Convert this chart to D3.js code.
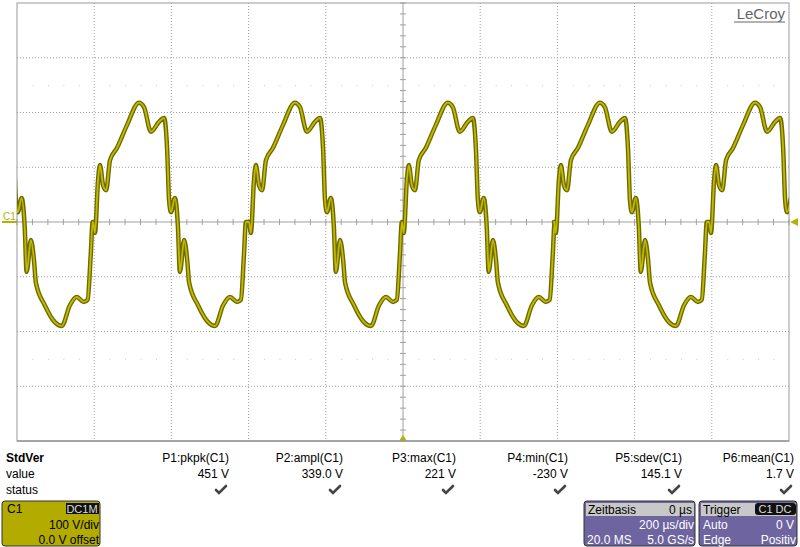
<!DOCTYPE html><html><head><meta charset="utf-8">
<script src="https://cdn.jsdelivr.net/npm/d3@7"></script>
<style>body{margin:0;background:#fff}svg{display:block;font-family:"Liberation Sans",Arial,sans-serif}</style></head><body>
<script>
// one cycle of the waveform: offset in µs from rising zero crossing, volts
const cycleOffsets=[0,5,13,18,26,34,44,62,88,119,132,150,171,184,192,197,202,212,220,225,236,244,249,272,298,316,337,355,373,383,391,396];
const cycleVolts=[0,-20,77,104,67,58,113,135,177,218,210,165,183,190,132,40,18,44,-10,-91,-33,-70,-111,-152,-183,-190,-152,-137,-146,-142,-60,0];
const cycleStarts=[-1200,-803,-399,-3,391,793]; // µs
const measLabels=["P1:pkpk(C1)","P2:ampl(C1)","P3:max(C1)","P4:min(C1)","P5:sdev(C1)","P6:mean(C1)"];
const measValues=["451 V","339.0 V","221 V","-230 V","145.1 V","1.7 V"];

const W=800,H=547;
const svg=d3.select("body").append("svg").attr("width",W).attr("height",H);
const L=17,R=789,T=3,B=441;
const x=d3.scaleLinear().domain([-1000,1000]).range([L,R]);
const y=d3.scaleLinear().domain([-400,400]).range([B,T]);
const g=svg.append("g");
const gc="#a0a0a0";
d3.range(-1000,1001,200).forEach(t=>{ if(t!==0&&t!==-1000&&t!==1000) g.append("line").attr("x1",x(t)).attr("x2",x(t)).attr("y1",T).attr("y2",B).attr("stroke",gc).attr("stroke-dasharray","1,2");});
d3.range(-300,301,100).forEach(v=>{ if(v!==0) g.append("line").attr("x1",L).attr("x2",R).attr("y1",y(v)).attr("y2",y(v)).attr("stroke",gc).attr("stroke-dasharray","1,2");});
[250,-250].forEach(v=>{d3.range(-1000,1000,40).forEach(t=>{ if(t%200!==-1000%200) g.append("rect").attr("x",x(t)).attr("y",y(v)).attr("width",1).attr("height",1).attr("fill","#c8c8c8");});});
g.append("line").attr("x1",L).attr("x2",R).attr("y1",y(0)).attr("y2",y(0)).attr("stroke","#a0a0a0");
g.append("line").attr("x1",x(0)).attr("x2",x(0)).attr("y1",T).attr("y2",B).attr("stroke","#a0a0a0");
d3.range(-1000,1001,40).forEach(t=>g.append("line").attr("x1",x(t)).attr("x2",x(t)).attr("y1",y(0)-3).attr("y2",y(0)+3).attr("stroke","#a0a0a0"));
d3.range(-400,401,20).forEach(v=>g.append("line").attr("x1",x(0)-3).attr("x2",x(0)+3).attr("y1",y(v)).attr("y2",y(v)).attr("stroke","#a0a0a0"));
g.append("rect").attr("x",L).attr("y",T).attr("width",R-L).attr("height",B-T).attr("fill","none").attr("stroke","#999");
const pts=[];
cycleStarts.forEach(s=>cycleOffsets.forEach((o,i)=>pts.push([s+o,cycleVolts[i]])));
const vis=pts.filter(p=>p[0]>=-1010&&p[0]<=1010);
svg.append("clipPath").attr("id","c").append("rect").attr("x",L).attr("y",T).attr("width",R-L).attr("height",B-T);
const line=d3.line().x(d=>x(d[0])).y(d=>y(d[1])).curve(d3.curveMonotoneX);
const wg=svg.append("g").attr("clip-path","url(#c)");
wg.append("path").attr("d",line(vis)).attr("fill","none").attr("stroke","#6e6a00").attr("stroke-width",4.5).attr("stroke-linejoin","round");
wg.append("path").attr("d",line(vis)).attr("fill","none").attr("stroke","#c2ba00").attr("stroke-width",1.8).attr("stroke-linejoin","round");
const oc="#b8b000";
svg.append("text").attr("x",3).attr("y",y(0)-2).attr("font-size",10).attr("fill",oc).text("C1");
svg.append("line").attr("x1",2).attr("x2",L).attr("y1",y(0)).attr("y2",y(0)).attr("stroke",oc).attr("stroke-width",2);
svg.append("path").attr("d",`M${R+1},${y(0)}l8,-4v8z`).attr("fill",oc);
svg.append("path").attr("d",`M${x(0)},${B-6}l-4,6h8z`).attr("fill",oc);
svg.append("text").attr("x",785).attr("y",19).attr("text-anchor","end").attr("font-size",15).attr("fill","#666").text("LeCroy");
svg.append("line").attr("x1",734).attr("x2",785).attr("y1",22).attr("y2",22).attr("stroke","#666");
svg.append("line").attr("x1",L).attr("x2",R).attr("y1",B).attr("y2",B).attr("stroke","#999").attr("stroke-width",1.5);
const fs=12;
svg.append("text").attr("x",6).attr("y",462).attr("font-size",fs).attr("font-weight","bold").text("StdVer");
svg.append("text").attr("x",6).attr("y",478).attr("font-size",fs).text("value");
svg.append("text").attr("x",6).attr("y",494).attr("font-size",fs).text("status");
const colX=[229,343,456,568,682,794];
measLabels.forEach((l,i)=>{
 svg.append("text").attr("x",colX[i]).attr("y",462).attr("text-anchor","end").attr("font-size",fs).text(l);
 svg.append("text").attr("x",colX[i]).attr("y",478).attr("text-anchor","end").attr("font-size",fs).text(measValues[i]);
 svg.append("path").attr("d",`M${colX[i]-13},${490}l3,3l7,-7`).attr("fill","none").attr("stroke","#444").attr("stroke-width",2.6).attr("stroke-linecap","round");
});
function box(x0,w,fill){svg.append("rect").attr("x",x0).attr("y",501).attr("width",w).attr("height",45).attr("rx",3).attr("fill",fill).attr("stroke","#333");}
box(2,98,"#b3ab00");
svg.append("text").attr("x",7).attr("y",513).attr("font-size",fs).text("C1");
svg.append("rect").attr("x",66).attr("y",503).attr("width",33).attr("height",11).attr("fill","#111");
svg.append("text").attr("x",82).attr("y",513).attr("text-anchor","middle").attr("font-size",11).attr("fill","#ddd").text("DC1M");
svg.append("text").attr("x",99).attr("y",529).attr("text-anchor","end").attr("font-size",fs).text("100 V/div");
svg.append("text").attr("x",99).attr("y",544).attr("text-anchor","end").attr("font-size",fs).text("0.0 V offset");
box(584,111,"#6e64a0");
svg.append("rect").attr("x",586).attr("y",503).attr("width",108).attr("height",13).attr("fill","#c8c8c8");
svg.append("text").attr("x",588).attr("y",514).attr("font-size",fs).text("Zeitbasis");
svg.append("text").attr("x",692).attr("y",514).attr("text-anchor","end").attr("font-size",fs).text("0 µs");
svg.append("text").attr("x",694).attr("y",529).attr("text-anchor","end").attr("font-size",fs).attr("fill","#fff").text("200 µs/div");
svg.append("text").attr("x",587).attr("y",544).attr("font-size",fs).attr("fill","#fff").text("20.0 MS");
svg.append("text").attr("x",694).attr("y",544).attr("text-anchor","end").attr("font-size",fs).attr("fill","#fff").text("5.0 GS/s");
box(699,98,"#6e64a0");
svg.append("rect").attr("x",701).attr("y",503).attr("width",95).attr("height",13).attr("fill","#c8c8c8");
svg.append("text").attr("x",703).attr("y",514).attr("font-size",fs).text("Trigger");
svg.append("rect").attr("x",755).attr("y",503).attr("width",41).attr("height",12).attr("rx",3).attr("fill","#111");
svg.append("text").attr("x",775).attr("y",513).attr("text-anchor","middle").attr("font-size",11).attr("fill","#ddd").text("C1 DC");
svg.append("text").attr("x",703).attr("y",529).attr("font-size",fs).attr("fill","#fff").text("Auto");
svg.append("text").attr("x",794).attr("y",529).attr("text-anchor","end").attr("font-size",fs).attr("fill","#fff").text("0 V");
svg.append("text").attr("x",703).attr("y",544).attr("font-size",fs).attr("fill","#fff").text("Edge");
svg.append("text").attr("x",796).attr("y",544).attr("text-anchor","end").attr("font-size",fs).attr("fill","#fff").text("Positiv");
</script></body></html>
